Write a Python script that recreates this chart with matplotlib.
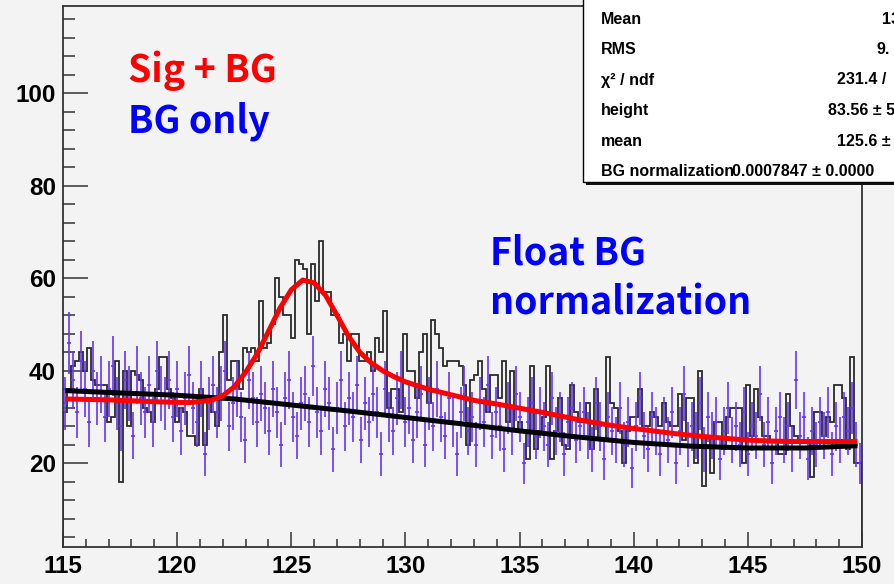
import numpy as np
import matplotlib
matplotlib.use("Agg")
import matplotlib.pyplot as plt
from matplotlib.patches import Rectangle

# ---------------- data ----------------
x_min, x_max, n_bins = 115.0, 150.0, 200

sig_bg_counts = [
    31, 36, 41, 42, 44, 40, 45, 38, 37, 37,
    37, 29, 30, 42, 16, 40, 28, 40, 39, 38,
    32, 31, 29, 36, 43, 43, 36, 34, 29, 32,
    31, 26, 26, 24, 36, 24, 34, 31, 28, 44,
    52, 38, 42, 42, 36, 45, 44, 45, 42, 55,
    45, 46, 50, 60, 56, 52, 52, 47, 64, 63,
    62, 48, 63, 55, 68, 57, 57, 52, 52, 46,
    48, 42, 48, 48, 42, 42, 44, 40, 47, 44,
    53, 32, 36, 36, 31, 48, 40, 40, 34, 44,
    48, 33, 51, 48, 45, 41, 42, 42, 42, 41,
    37, 24, 38, 39, 42, 36, 31, 39, 39, 34,
    42, 29, 40, 27, 29, 27, 21, 41, 23, 27,
    30, 41, 21, 27, 34, 24, 23, 37, 31, 29,
    29, 33, 23, 36, 25, 25, 43, 33, 32, 27,
    20, 27, 30, 30, 36, 28, 28, 31, 30, 28,
    33, 29, 28, 28, 35, 25, 34, 34, 20, 40,
    15, 26, 18, 29, 29, 23, 30, 32, 32, 32,
    20, 37, 26, 36, 30, 26, 26, 25, 25, 22,
    22, 35, 28, 26, 25, 25, 25, 17, 31, 31,
    26, 30, 29, 37, 37, 34, 23, 43, 20, 20,
]

bg_only_counts = [
    33, 46, 38, 31, 42, 36, 29, 40, 34, 37,
    30, 36, 41, 33, 28, 38, 35, 26, 39, 34,
    31, 37, 29, 40, 35, 33, 38, 30, 36, 27,
    34, 39, 32, 29, 36, 22, 33, 37, 31, 35,
    40, 28, 33, 36, 30, 25, 38, 34, 29, 35,
    32, 27, 36, 31, 24, 34, 38, 30, 26, 33,
    35, 29, 41, 31, 27, 36, 33, 23, 32, 38,
    28, 34, 30, 37, 25, 33, 29, 35, 31, 22,
    36, 30, 27, 34, 38, 29, 32, 25, 31, 35,
    24, 33, 28, 36, 30, 26, 34, 29, 22, 31,
    35, 27, 30, 24, 33, 29, 37, 26, 31, 28,
    23, 32, 27, 35, 30, 20, 29, 33, 26, 31,
    28, 24, 34, 27, 30, 22, 29, 32, 25, 28,
    31, 26, 23, 33, 28, 21, 30, 27, 25, 32,
    24, 29, 19, 28, 34, 26, 23, 30, 27, 22,
    29, 25, 31, 20, 27, 35, 24, 28, 26, 33,
    23, 30, 26, 29, 21, 27, 32, 25, 28, 24,
    31, 22, 28, 26, 35, 24, 29, 20, 27, 30,
    25, 28, 23, 38, 26, 30, 21, 27, 24, 29,
    26, 31, 22, 28, 25, 30, 27, 32, 24, 20,
]

# fit curves
sig_fit_x = [115.1, 117, 119, 120.5, 121.5, 122, 122.5, 123, 123.5, 124, 124.5,
             125, 125.5, 126, 126.5, 127, 127.5, 128, 128.5, 129, 129.5, 130,
             131, 132, 133, 134, 135, 136, 137, 138, 139, 140, 141, 142, 143,
             144, 145, 146, 147, 148, 149.8]
sig_fit_y = [33.9, 33.7, 33.3, 33.1, 33.6, 34.6, 36.5, 39.7, 43.6, 48.5, 53.5,
             57.5, 59.6, 59.0, 56.3, 52.0, 47.5, 44.0, 41.7, 40.0, 38.7, 37.6,
             36.0, 34.8, 33.6, 32.8, 31.9, 31.0, 30.0, 29.0, 28.2, 27.5, 26.9,
             26.3, 25.8, 25.4, 25.0, 24.8, 24.7, 24.7, 24.7]

bg_fit_x = [115.1, 117.5, 120, 122.5, 125, 127.5, 130, 132.5, 135, 137.5,
            140, 142.5, 145, 147.5, 149.8]
bg_fit_y = [35.7, 35.2, 34.7, 33.9, 32.6, 31.3, 29.9, 28.5, 27.0, 25.7,
            24.5, 23.7, 23.3, 23.3, 23.8]

x_ticks = [115, 120, 125, 130, 135, 140, 145, 150]
y_ticks = [20, 40, 60, 80, 100]

stats_labels = ["Mean", "RMS", "\u03c7\u00b2 / ndf", "height", "mean", "BG normalization"]
stats_values = ["13", "9.", "231.4 /", "83.56 \u00b1 5", "125.6 \u00b1", "0.0007847 \u00b1 0.0000"]

# ---------------- figure ----------------
W, H = 895, 584
bgc = "#f3f3f3"
fig = plt.figure(figsize=(W / 100, H / 100), dpi=100, facecolor=bgc)
ax = fig.add_axes([63 / W, 1 - 547 / H, (862 - 63) / W, (547 - 5.7) / H])
ax.set_facecolor(bgc)

edges = np.linspace(x_min, x_max, n_bins + 1)
centers = 0.5 * (edges[:-1] + edges[1:])
half_w = 0.5 * (edges[1] - edges[0])

ax.stairs(sig_bg_counts, edges, color="#2a2a2a", lw=1.3, zorder=1)

bg = np.array(bg_only_counts, dtype=float)
ax.errorbar(centers, bg, yerr=np.sqrt(bg), xerr=half_w, fmt="none",
            ecolor="#6633ff", elinewidth=1.2, capsize=0, zorder=2)

ax.plot(bg_fit_x, bg_fit_y, color="black", lw=3.6, zorder=3, solid_capstyle="butt")
ax.plot(sig_fit_x, sig_fit_y, color="#ff0000", lw=3.6, zorder=4, solid_capstyle="butt")

ax.set_xlim(x_min, x_max)
ax.set_ylim(1.9, 118.9)

ax.set_xticks(x_ticks)
ax.set_yticks(y_ticks)
ax.set_xticks(np.arange(115, 151, 1), minor=True)
ax.set_yticks(np.arange(4, 119, 4), minor=True)

tick_font = dict(family="Liberation Sans", weight="bold", size=17.5)
ax.set_xticklabels([str(t) for t in x_ticks], fontdict=tick_font)
ax.set_yticklabels([str(t) for t in y_ticks], fontdict=tick_font)

ax.tick_params(axis="x", which="major", direction="in", length=10.8, width=1.1,
               color="#333333", pad=6, top=False)
ax.tick_params(axis="x", which="minor", direction="in", length=5.8, width=1.1,
               color="#333333", top=False)
ax.tick_params(axis="y", which="major", direction="in", length=18, width=1.1,
               color="#333333", pad=5, right=False)
ax.tick_params(axis="y", which="minor", direction="in", length=8.6, width=1.1,
               color="#333333", right=False)
for s in ax.spines.values():
    s.set_color("#333333")
    s.set_linewidth(1.3)

# overlay texts
txt_font = ["Noto Sans CJK JP", "DejaVu Sans"]
ax.text(117.85, 102.4, "Sig + BG", color="#ff0000", fontsize=27, weight="bold",
        family=txt_font, va="baseline", ha="left", zorder=6)
ax.text(117.85, 91.4, "BG only", color="#0000ff", fontsize=27, weight="bold",
        family=txt_font, va="baseline", ha="left", zorder=6)
ax.text(133.7, 62.9, "Float BG", color="#0000ff", fontsize=27, weight="bold",
        family=txt_font, va="baseline", ha="left", zorder=6)
ax.text(133.7, 52.1, "normalization", color="#0000ff", fontsize=27, weight="bold",
        family=txt_font, va="baseline", ha="left", zorder=6)

# stats box (figure pixel coordinates)
def fx(px):
    return px / W

def fy(py):
    return 1 - py / H

shadow = Rectangle((fx(586), fy(185)), fx(920) - fx(586), fy(-10) - fy(185),
                   transform=fig.transFigure, facecolor="#111111", edgecolor="none",
                   zorder=10)
box = Rectangle((fx(583), fy(182)), fx(920) - fx(583), fy(-10) - fy(182),
                transform=fig.transFigure, facecolor="white", edgecolor="black",
                lw=1.0, zorder=11)
fig.add_artist(shadow)
fig.add_artist(box)

row_base = [23.5, 54, 84.5, 115, 145.5, 176]
val_x = [881.7, 876.7, 836.7, 828.3, 836.7, 732.0]
st_font = dict(family=["Liberation Sans", "DejaVu Sans"], weight="bold", size=11.5)
for lab, val, yb, vx in zip(stats_labels, stats_values, row_base, val_x):
    fig.text(fx(600.7), fy(yb), lab, va="baseline", ha="left", zorder=12, **st_font)
    fig.text(fx(vx), fy(yb), val, va="baseline", ha="left", zorder=12, **st_font)

fig.savefig("out.png", dpi=100, facecolor=bgc)
